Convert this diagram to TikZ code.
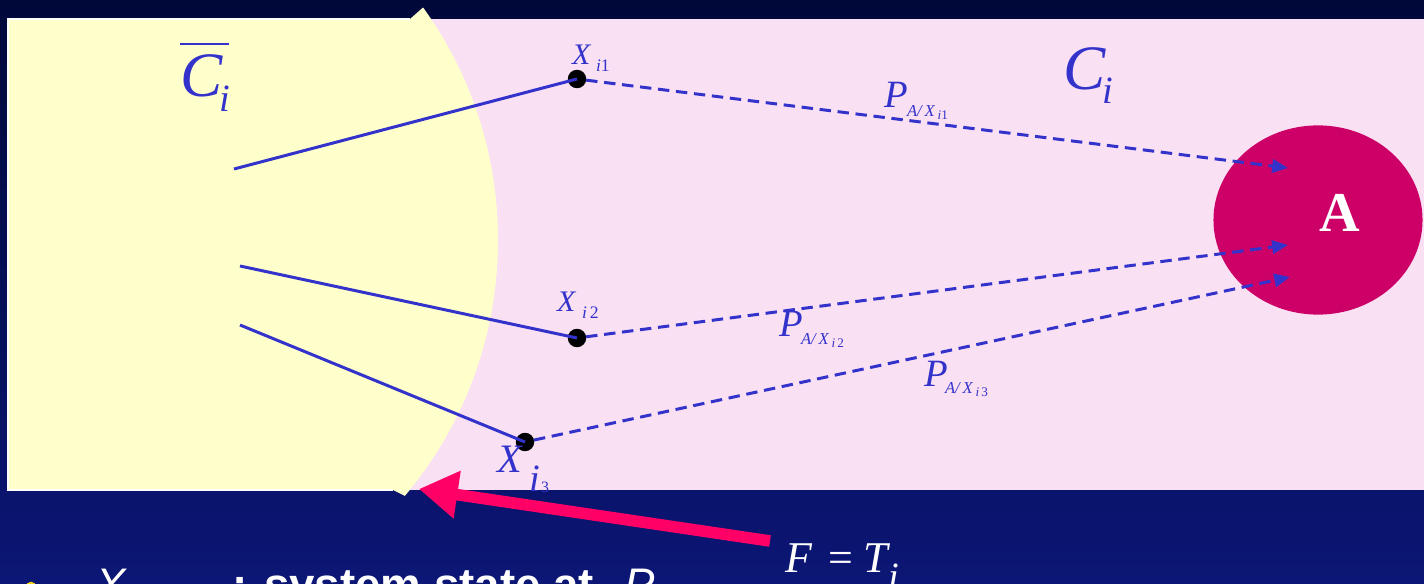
\documentclass[tikz,border=0pt]{standalone}
\usepackage{fontspec}
\setmainfont{Liberation Serif}
\setsansfont{Liberation Sans}
\usetikzlibrary{arrows.meta,shapes.geometric}
\definecolor{bgtop}{HTML}{00083A}
\definecolor{bgbot}{HTML}{0C1675}
\definecolor{pinkbg}{HTML}{F9E0F3}
\definecolor{yel}{HTML}{FFFFCC}
\definecolor{lblue}{HTML}{3333CC}
\definecolor{amag}{HTML}{CC0066}
\definecolor{parrow}{HTML}{FF0066}
\definecolor{bulcol}{HTML}{F2D21B}
\newcommand\myfs[1]{\fontsize{#1}{#1}\selectfont}
\begin{document}
\begin{tikzpicture}[x=0.02cm,y=-0.02cm,
  lbl/.style={inner sep=0pt, outer sep=0pt, anchor=base west, text=lblue},
  wlbl/.style={inner sep=0pt, outer sep=0pt, anchor=base west, text=white},
  solidline/.style={lblue, line width=1.7pt},
  dashline/.style={lblue, line width=1.7pt, dash pattern=on 6.5pt off 3.8pt,
     -{Triangle[length=9pt,width=7.5pt]}},
  dot/.style={circle, fill=black, minimum size=10.5pt, inner sep=0pt, outer sep=0pt}]
\useasboundingbox (0,0) rectangle (1424,584);
\clip (0,0) rectangle (1424,584);
% background
\shade[top color=bgtop, bottom color=bgbot] (0,0) rectangle (1424,584);
\fill[pinkbg] (8,19) rectangle (1424,490);
% yellow region
\begin{scope}
  \clip (100,240) circle [radius=398];
  \fill[yel] (8,19) -- (410,19) -- (427,4) -- (600,4) -- (600,497) -- (407,497) -- (393,490) -- (8,490) -- cycle;
\end{scope}
\draw[white, line width=1.2pt] (410,19) -- (8,19) -- (8,490) -- (393,490);
% A region
\node[ellipse, fill=amag, minimum width=119pt, minimum height=107.7pt, inner sep=0pt] (A) at (1318,220) {};
\node[inner sep=0pt, anchor=base, text=white, font=\bfseries\myfs{32}] (atext) at (1340,232) {A};
% states
\node[dot] (x1) at (577,79) {};
\node[dot] (x2) at (577,338) {};
\node[dot] (x3) at (525,442) {};
\coordinate (s1) at (234,169);
\coordinate (s2) at (240,266);
\coordinate (s3) at (240,325);
\coordinate (a1) at (1288,168);
\coordinate (a2) at (1288,245);
\coordinate (a3) at (1290,277);
\draw[solidline] (s1) -- (x1.center);
\draw[solidline] (s2) -- (x2.center);
\draw[solidline] (s3) -- (x3.center);
\draw[dashline] (x1) -- (a1);
\draw[dashline] (x2) -- (a2);
\draw[dashline] (x3) -- (a3);
% labels
\node[lbl, font=\itshape\myfs{36}] (cbar) at (180,97) {\rlap{\upshape\rule[29.5pt]{28pt}{1.4pt}}C};
\node[lbl, font=\itshape\myfs{22}] (cbari) at (219,112) {i};
\node[lbl, font=\itshape\myfs{36}] (ci) at (1063,90) {C};
\node[lbl, font=\itshape\myfs{22}] (cii) at (1102,104) {i};
\node[lbl, font=\itshape\myfs{17}] (lx1) at (572,65) {X};
\node[lbl, font=\myfs{10}] (lx1s) at (596,72) {\textit{i}1};
\node[lbl, font=\itshape\myfs{17}] (lx2) at (557,312) {X};
\node[lbl, font=\myfs{10}] (lx2s) at (582,318) {\textit{i}\,2};
\node[lbl, font=\itshape\myfs{23}] (lx3) at (497,472) {X};
\node[lbl, font=\itshape\myfs{22}] (lx3i) at (529,491) {i};
\node[lbl, font=\myfs{9}] (lx3n) at (541,492) {3};
\node[lbl, font=\itshape\myfs{22}] (p1) at (884,108) {P};
\node[lbl, font=\itshape\myfs{9.5}] (p1s) at (907,117) {A/\,X\,\raisebox{-1.2pt}{\myfs{7.5}i\upshape 1}};
\node[lbl, font=\itshape\myfs{22}] (p2) at (779,337) {P};
\node[lbl, font=\itshape\myfs{9.5}] (p2s) at (801,345) {A/\,X\,\raisebox{-1.2pt}{\myfs{7.5}i\,\upshape 2}};
\node[lbl, font=\itshape\myfs{22}] (p3) at (924,386) {P};
\node[lbl, font=\itshape\myfs{9.5}] (p3s) at (945,394) {A/\,X\,\raisebox{-1.2pt}{\myfs{7.5}i\,\upshape 3}};
% failure arrow
\coordinate (fstart) at (770,541);
\coordinate (ftip) at (419,489);
\draw[parrow, line width=6.6pt, -{Triangle[length=22pt,width=26pt]}] (fstart) -- (ftip);
\node[wlbl, font=\myfs{25}] (fe) at (785,572) {\textit{F}\hspace{9pt}=\hspace{6pt}\textit{T}};
\node[wlbl, font=\itshape\myfs{22}] (fei) at (888,589) {i};
% bottom bullet text
\node[circle, fill=bulcol, minimum size=6pt, inner sep=0pt] (bul) at (31,587) {};
\node[wlbl, font=\sffamily\itshape\myfs{26}] (bx) at (95,600) {X};
\node[wlbl, font=\sffamily\bfseries\myfs{26}] (btxt) at (232,600) {: system state at};
\node[wlbl, font=\sffamily\itshape\myfs{26}] (bp) at (624,600) {P};
\end{tikzpicture}
\end{document}
